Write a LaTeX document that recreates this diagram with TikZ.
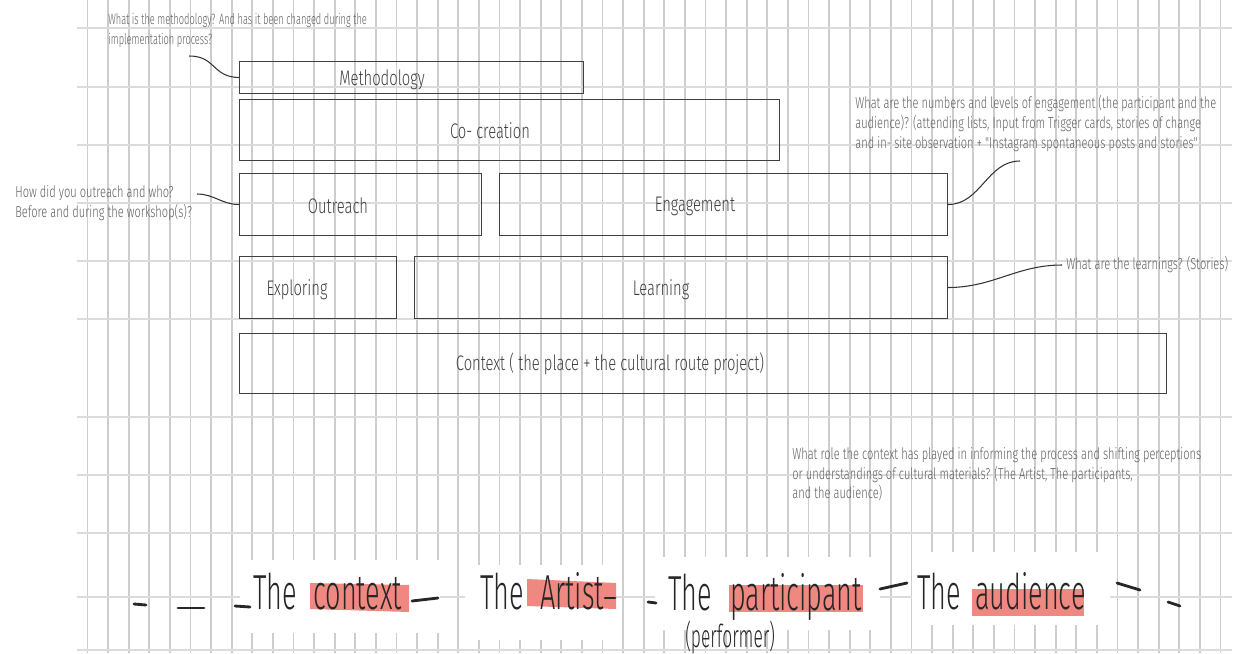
\documentclass[tikz,border=0pt]{standalone}
\usepackage{fontspec}
\IfFontExistsTF{Fira Sans Light}{\def\thinfam{Fira Sans Light}}{\def\thinfam{Fira Sans}}
\setmainfont{\thinfam}
\newfontfamily\annfont{\thinfam}[FakeStretch=0.70]
\newfontfamily\smallfont{\thinfam}[FakeStretch=0.62]
\newfontfamily\boxfont{\thinfam}[FakeStretch=0.70]
\newfontfamily\bigfont{\thinfam}[FakeStretch=0.55]
\definecolor{figG}{RGB}{205,205,205}
\definecolor{figL}{RGB}{220,220,220}
\definecolor{figH}{RGB}{240,136,130}
\definecolor{figT}{RGB}{95,95,95}

\begin{document}
\begin{tikzpicture}[x=0.02cm,y=-0.02cm,
  box/.style={draw=black!75,line width=0.6pt,anchor=north west,inner sep=0pt},
  boxtxt/.style={text=black!75,inner sep=0pt,font=\boxfont\fontsize{12}{14}\selectfont},
  note/.style={text=figT,align=left,anchor=north west,inner sep=0pt,font=\annfont\fontsize{9}{11.3}\selectfont},
  link/.style={black!80,line width=0.6pt},
  big/.style={text=black!85,anchor=base west,inner sep=0pt,font=\bigfont\fontsize{28}{30}\selectfont},
  brush/.style={black!85,line width=1.6pt,line cap=round}]
\useasboundingbox (0,0) rectangle (1245,653);
% paper grid
\foreach \i in {0,...,55}
  \draw[figG,line width=1.1pt] ({87.5+20.6*\i},0) -- ({87.5+20.6*\i},653);
\foreach \y in {28,87,145,203,261,319,417,475,533,597,650}
  \draw[figL,line width=1.1pt] (77,\y) -- (1232,\y);
\fill[white] (240,560) rectangle (440,633);
\fill[white] (465,565) rectangle (615,640);
\fill[white] (655,557) rectangle (880,630);
\fill[white] (912,552) rectangle (1110,625);

% boxes
\node[box,minimum width=6.88cm,minimum height=0.64cm] (meth) at (239,61) {};
\node[box,minimum width=10.8cm,minimum height=1.22cm] (cocr) at (239,99) {};
\node[box,minimum width=4.84cm,minimum height=1.24cm] (outr) at (239,173) {};
\node[box,minimum width=8.96cm,minimum height=1.24cm] (engage) at (499,173) {};
\node[box,minimum width=3.14cm,minimum height=1.24cm] (explo) at (239,256) {};
\node[box,minimum width=10.66cm,minimum height=1.24cm] (learn) at (414,256) {};
\node[box,minimum width=18.54cm,minimum height=1.2cm] (ctx) at (239,333) {};
\node[boxtxt] (methl) at (382,80) {Methodology};
\node[boxtxt] (cocrl) at (490,131) {Co- creation};
\node[boxtxt] (outrl) at (338,206) {Outreach};
\node[boxtxt] (engagel) at (695,206) {Engagement};
\node[boxtxt] (explol) at (297,290) {Exploring};
\node[boxtxt] (learnl) at (661,290) {Learning};
\node[boxtxt] (ctxl) at (610,364) {Context ( the place + the cultural route project)};

% questions
\node[note,font=\smallfont\fontsize{8.5}{11.3}\selectfont] (methq) at (108,13) {What is the methodology? And has it been changed during the\\implementation process?};
\node[note] (outrq) at (15,185) {How did you outreach and who?\\Before and during the workshop(s)?};
\node[note] (engageq) at (855,95) {What are the numbers and levels of engagement (the participant and the\\audience)? (attending lists, Input from Trigger cards, stories of change\\and in- site observation + "Instagram spontaneous posts and stories"};
\node[note] (learnq) at (1066,256) {What are the learnings? (Stories)};
\node[note] (ctxq) at (792,447) {What role the context has played in informing the process and shifting perceptions\\or understandings of cultural materials? (The Artist, The participants,\\and the audience)};
\coordinate (mq) at (189,56);
\coordinate (oq) at (197,194);
\coordinate (eq) at (1020,161);
\coordinate (lq) at (1062,265);
\draw[link] (mq) .. controls (216,56) and (212,77) .. (meth.west);
\draw[link] (oq) to[out=0,in=180] (outr.west);
\draw[link] (engage.east) to[out=0,in=180] (eq);
\draw[link] (learn.east) to[out=0,in=180] (lq);

% actors
\fill[figH] (310,583) -- (409,585) -- (409,612) -- (310,609) -- cycle;
\fill[figH] (527,579) -- (616,583) -- (616,609) -- (527,606) -- cycle;
\fill[figH] (729,585) rectangle (863,612);
\fill[figH] (972,589) rectangle (1084,616);
\node[big] (the1) at (253,609) {The};
\node[big] (word1) at (313,609) {context};
\node[big] (the2) at (480,609) {The};
\node[big] (word2) at (540,609) {Artist};
\node[big] (the3) at (668,610) {The};
\node[big] (word3) at (730,610) {participant};
\node[big] (the4) at (917,609) {The};
\node[big] (word4) at (975,609) {audience};
\node[big,font=\bigfont\fontsize{18}{20}\selectfont] (perf) at (685,647) {(performer)};
\foreach \a/\b/\c/\d in {134/604/146/605,178/608/204/608,235/606/250/607,412/601/438/598,
  605/598/615/598,648/602/656/603,880/589/907/583,1117/583/1140/590,1168/602/1180/606}
  \draw[brush] (\a,\b) -- (\c,\d);
\end{tikzpicture}
\end{document}
